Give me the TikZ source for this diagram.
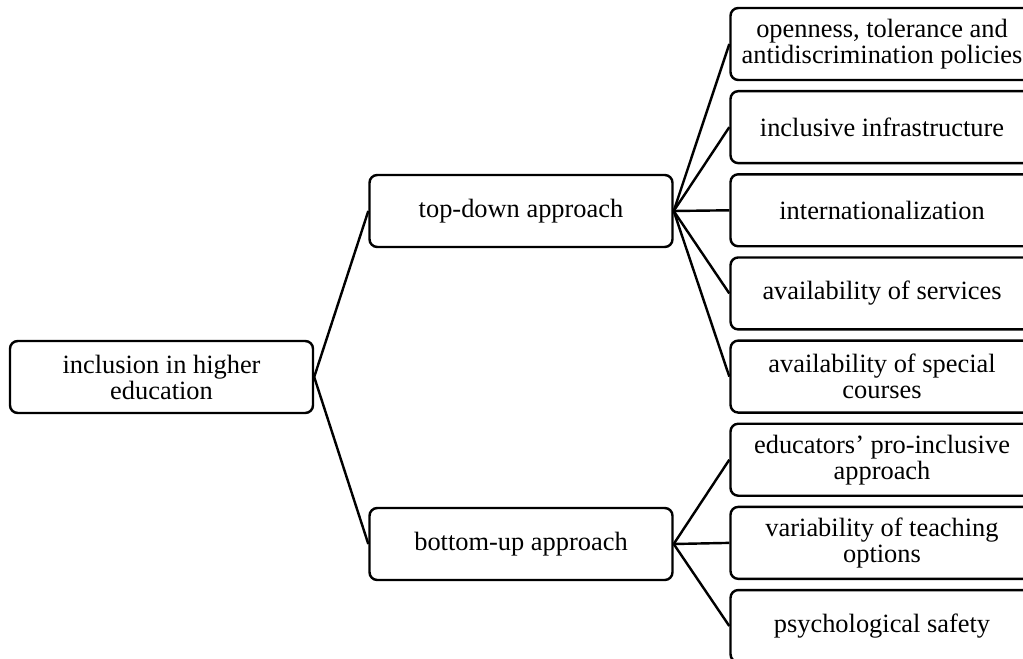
\documentclass[tikz,border=0pt]{standalone}
\usepackage{fontspec}
\setmainfont{Liberation Serif}
\tikzstyle{box} = [draw, line width=1.1pt, rounded corners=3.5pt, align=center, minimum width=137.7pt, minimum height=32.7pt, inner sep=2pt, font=\fontsize{12}{11.8}\selectfont]
\tikzstyle{link} = [line width=1.1pt]

\begin{document}
\begin{tikzpicture}[x=0.4545pt, y=-0.4545pt, node distance=37.79pt]
  \useasboundingbox (0,0) rectangle (1023,658);
  \clip (0,0) rectangle (1023,658);
  \node[box] (root) at (161.5,377) {inclusion in higher\\education};
  \node[box] (td) at (521,211) {top-down approach};
  \node[box] (bu) at (521,544) {bottom-up approach};
  \node[box] (t1) at (882,44) {openness, tolerance and\\antidiscrimination policies};
  \node[box, below of=t1] (t2) {inclusive infrastructure};
  \node[box, below of=t2] (t3) {internationalization};
  \node[box, below of=t3] (t4) {availability of services};
  \node[box, below of=t4] (t5) {availability of special\\courses};
  \node[box, below of=t5] (b1) {educators’ pro-inclusive\\approach};
  \node[box, below of=b1] (b2) {variability of teaching\\options};
  \node[box, below of=b2] (b3) {psychological safety};
  \draw[link] (root.east) -- (td.west);
  \draw[link] (root.east) -- (bu.west);
  \foreach \n in {t1,t2,t3,t4,t5}
    \draw[link] (td.east) -- (\n.west);
  \foreach \n in {b1,b2,b3}
    \draw[link] (bu.east) -- (\n.west);
\end{tikzpicture}
\end{document}
